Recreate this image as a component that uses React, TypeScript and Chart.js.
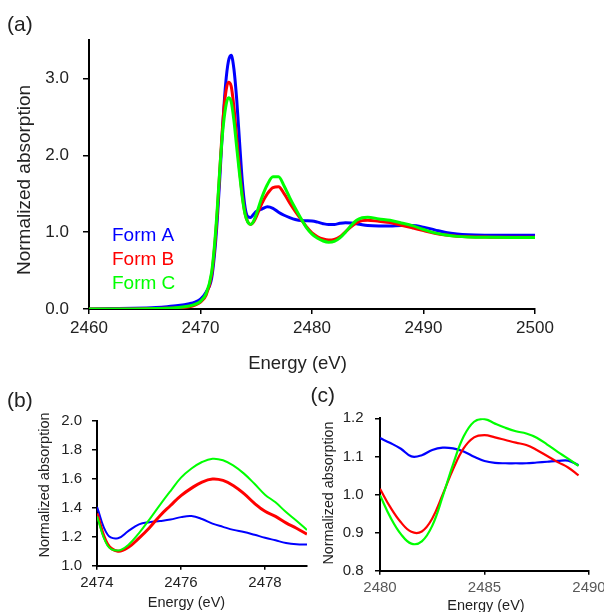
import React, { useEffect, useRef } from 'react';
import { Chart, registerables } from 'chart.js';

Chart.register(...registerables);

const FONT = '"Liberation Sans", Arial, Helvetica, sans-serif';
const BLUE = '#0000ff';
const RED = '#ff0000';
const GREEN = '#00ff00';

// ---------- Panel (a): full spectrum ----------
const mainEnergy = [2460, 2462, 2464, 2466, 2467, 2468, 2469, 2469.5, 2470, 2470.5, 2471, 2471.25, 2471.5, 2471.75, 2472, 2472.25, 2472.5, 2472.75, 2473, 2473.25, 2473.5, 2473.75, 2474, 2474.25, 2474.5, 2474.75, 2475, 2475.5, 2476, 2476.5, 2477, 2477.5, 2478, 2478.5, 2479, 2479.5, 2480, 2480.5, 2481, 2481.5, 2482, 2482.5, 2483, 2483.5, 2484, 2484.5, 2485, 2486, 2487, 2488, 2489, 2490, 2491, 2492, 2493, 2494, 2496, 2498, 2500];
const mainFormA = [0.0, 0.005, 0.01, 0.02, 0.03, 0.045, 0.07, 0.09, 0.13, 0.22, 0.40, 0.70, 1.15, 1.75, 2.40, 2.92, 3.22, 3.30, 3.12, 2.72, 2.18, 1.66, 1.32, 1.20, 1.19, 1.23, 1.27, 1.30, 1.33, 1.31, 1.26, 1.22, 1.19, 1.165, 1.15, 1.148, 1.145, 1.13, 1.11, 1.098, 1.10, 1.115, 1.123, 1.12, 1.11, 1.095, 1.085, 1.08, 1.08, 1.085, 1.085, 1.065, 1.03, 0.995, 0.975, 0.965, 0.96, 0.958, 0.96];
const mainFormB = [0.0, 0.0, 0.0, 0.005, 0.01, 0.015, 0.03, 0.05, 0.09, 0.18, 0.45, 0.78, 1.25, 1.85, 2.42, 2.80, 2.95, 2.90, 2.62, 2.22, 1.82, 1.48, 1.24, 1.13, 1.10, 1.13, 1.20, 1.37, 1.50, 1.58, 1.59, 1.50, 1.38, 1.27, 1.17, 1.07, 0.99, 0.94, 0.91, 0.897, 0.905, 0.94, 1.005, 1.07, 1.12, 1.15, 1.156, 1.14, 1.125, 1.09, 1.055, 1.02, 0.985, 0.962, 0.948, 0.94, 0.935, 0.933, 0.935];
const mainFormC = [0.0, 0.0, 0.0, 0.005, 0.01, 0.02, 0.04, 0.06, 0.10, 0.20, 0.48, 0.82, 1.30, 1.86, 2.32, 2.62, 2.75, 2.70, 2.45, 2.10, 1.76, 1.45, 1.23, 1.13, 1.10, 1.14, 1.23, 1.45, 1.62, 1.72, 1.72, 1.60, 1.45, 1.31, 1.18, 1.06, 0.975, 0.92, 0.885, 0.87, 0.88, 0.925, 1.0, 1.085, 1.155, 1.188, 1.195, 1.172, 1.155, 1.12, 1.085, 1.035, 0.99, 0.962, 0.945, 0.937, 0.932, 0.93, 0.93];

// ---------- Panel (b): 2474-2479 eV ----------
const bEnergy = [2474, 2474.25, 2474.5, 2474.75, 2475, 2475.25, 2475.5, 2475.75, 2476, 2476.25, 2476.5, 2476.75, 2477, 2477.25, 2477.5, 2477.75, 2478, 2478.25, 2478.5, 2478.75, 2479];
const bFormA = [1.405, 1.215, 1.19, 1.24, 1.285, 1.30, 1.308, 1.318, 1.335, 1.342, 1.322, 1.29, 1.268, 1.247, 1.232, 1.213, 1.193, 1.175, 1.157, 1.148, 1.146];
const bFormB = [1.36, 1.15, 1.10, 1.127, 1.19, 1.262, 1.345, 1.415, 1.483, 1.535, 1.577, 1.598, 1.588, 1.552, 1.497, 1.43, 1.375, 1.34, 1.295, 1.258, 1.218];
const bFormC = [1.34, 1.14, 1.105, 1.145, 1.225, 1.32, 1.42, 1.515, 1.607, 1.67, 1.715, 1.738, 1.727, 1.69, 1.635, 1.565, 1.49, 1.437, 1.37, 1.31, 1.246];

// ---------- Panel (c): 2480-2490 eV ----------
const cEnergy = [2480, 2480.5, 2481, 2481.5, 2482, 2482.5, 2483, 2483.5, 2484, 2484.5, 2485, 2485.5, 2486, 2486.5, 2487, 2487.5, 2488, 2488.5, 2489, 2489.5];
const cFormA = [1.148, 1.135, 1.12, 1.10, 1.103, 1.117, 1.123, 1.121, 1.113, 1.099, 1.088, 1.083, 1.082, 1.082, 1.082, 1.084, 1.086, 1.088, 1.089, 1.077];
const cFormB = [1.015, 0.966, 0.927, 0.902, 0.903, 0.937, 1.0, 1.067, 1.121, 1.15, 1.156, 1.15, 1.143, 1.136, 1.13, 1.117, 1.101, 1.085, 1.071, 1.05];
const cFormC = [0.998, 0.94, 0.896, 0.871, 0.877, 0.918, 0.995, 1.08, 1.152, 1.191, 1.198, 1.186, 1.175, 1.166, 1.16, 1.149, 1.131, 1.112, 1.094, 1.075];

const seriesLabels = ['Form A', 'Form B', 'Form C'];
const mainYTicks = [0, 1, 2, 3];

type TextItem = {
  text: string; x: number; y: number; size: number;
  color?: string; rotate?: boolean; align?: CanvasTextAlign;
};

type AxisSpec = {
  min: number; max: number; step: number; fontSize: number; color: string;
  tickLength: number; padding: number; size: number; decimals?: number;
};

type PanelSpec = {
  energy: number[];
  values: number[][];
  widths: number[];
  monotone: boolean;
  padding: { left: number; right: number; top: number; bottom: number };
  x: AxisSpec;
  y: AxisSpec;
  texts: TextItem[];
};

function makeAxis(a: AxisSpec, horizontal: boolean) {
  return {
    type: 'linear',
    min: a.min,
    max: a.max,
    ticks: {
      stepSize: a.step,
      includeBounds: false,
      autoSkip: false,
      maxRotation: 0,
      minRotation: 0,
      padding: a.padding,
      color: a.color,
      font: { family: FONT, size: a.fontSize },
      callback: (v: number) => (a.decimals !== undefined ? Number(v).toFixed(a.decimals) : String(Math.round(Number(v)))),
    },
    grid: {
      drawOnChartArea: false,
      drawTicks: true,
      tickLength: a.tickLength,
      color: '#000',
      lineWidth: 1.5,
    },
    border: { display: true, color: '#000', width: 2 },
    afterFit: (scale: any) => {
      if (horizontal) scale.height = a.size;
      else scale.width = a.size;
      scale.paddingLeft = 0;
      scale.paddingRight = 0;
      scale.paddingTop = 0;
      scale.paddingBottom = 0;
    },
  };
}

function buildConfig(p: PanelSpec): any {
  const colors = [BLUE, RED, GREEN];
  const orders = [2, 1, 0];
  const textPlugin = {
    id: 'panelTexts',
    afterDraw(chart: any) {
      const ctx = chart.ctx as CanvasRenderingContext2D;
      for (const t of p.texts) {
        ctx.save();
        ctx.font = `${t.size}px ${FONT}`;
        ctx.fillStyle = t.color || '#222';
        ctx.textAlign = t.align || 'center';
        ctx.textBaseline = 'alphabetic';
        ctx.translate(t.x, t.y);
        if (t.rotate) ctx.rotate(-Math.PI / 2);
        ctx.fillText(t.text, 0, 0);
        ctx.restore();
      }
    },
  };
  return {
    type: 'line',
    data: {
      datasets: p.values.map((vals, k) => ({
        label: seriesLabels[k],
        data: p.energy.map((e, i) => ({ x: e, y: vals[i] })),
        borderColor: colors[k],
        backgroundColor: colors[k],
        borderWidth: p.widths[k],
        pointRadius: 0,
        cubicInterpolationMode: p.monotone ? 'monotone' : 'default',
        tension: 0.4,
        fill: false,
        order: orders[k],
      })),
    },
    options: {
      animation: false,
      responsive: false,
      maintainAspectRatio: false,
      devicePixelRatio: 1,
      layout: { padding: p.padding, autoPadding: false },
      plugins: { legend: { display: false }, tooltip: { enabled: false }, title: { display: false } },
      scales: {
        x: makeAxis(p.x, true),
        y: makeAxis(p.y, false),
      },
    },
    plugins: [textPlugin],
  };
}

const panelA: PanelSpec = {
  energy: mainEnergy,
  values: [mainFormA, mainFormB, mainFormC],
  widths: [3, 3, 3],
  monotone: true,
  padding: { left: 0, right: 69, top: 40, bottom: 0 },
  x: { min: 2460, max: 2500, step: 10, fontSize: 17, color: '#222', tickLength: 5, padding: 4, size: 71 },
  y: { min: mainYTicks[0], max: 3.5, step: 1, fontSize: 17, color: '#222', tickLength: 6, padding: 14, size: 89, decimals: 1 },
  texts: [
    { text: '(a)', x: 7, y: 31, size: 21, align: 'left' },
    { text: 'Normalized absorption', x: 29.5, y: 180, size: 19, rotate: true },
    { text: 'Energy (eV)', x: 297.5, y: 368.5, size: 18.5 },
    { text: seriesLabels[0], x: 112, y: 241, size: 19, color: BLUE, align: 'left' },
    { text: seriesLabels[1], x: 112, y: 265, size: 19, color: RED, align: 'left' },
    { text: seriesLabels[2], x: 112, y: 288.5, size: 19, color: GREEN, align: 'left' },
  ],
};

const panelB: PanelSpec = {
  energy: bEnergy,
  values: [bFormA, bFormB, bFormC],
  widths: [2, 3, 2],
  monotone: false,
  padding: { left: 0, right: 3, top: 40.7, bottom: 0 },
  x: { min: 2474, max: 2479, step: 2, fontSize: 15, color: '#222', tickLength: 4, padding: 4, size: 46.3 },
  y: { min: 1.0, max: 2.0, step: 0.2, fontSize: 15, color: '#222', tickLength: 5, padding: 10, size: 97, decimals: 1 },
  texts: [
    { text: '(b)', x: 7, y: 27, size: 21, align: 'left' },
    { text: 'Normalized absorption', x: 48.5, y: 105, size: 14.5, rotate: true },
    { text: 'Energy (eV)', x: 186.5, y: 227.3, size: 14.5 },
  ],
};

const panelC: PanelSpec = {
  energy: cEnergy,
  values: [cFormA, cFormB, cFormC],
  widths: [2.2, 2.2, 2.2],
  monotone: false,
  padding: { left: 0, right: 15, top: 38.3, bottom: 0 },
  x: { min: 2480, max: 2490, step: 5, fontSize: 15, color: '#595959', tickLength: 4, padding: 4, size: 41.3 },
  y: { min: 0.8, max: 1.2, step: 0.1, fontSize: 15, color: '#222', tickLength: 5, padding: 11.5, size: 80, decimals: 1 },
  texts: [
    { text: '(c)', x: 10.5, y: 22.3, size: 21, align: 'left' },
    { text: 'Normalized absorption', x: 32.5, y: 113, size: 14.3, rotate: true },
    { text: 'Energy (eV)', x: 186, y: 230, size: 14.5 },
  ],
};

function Panel(props: { spec: PanelSpec; left: number; top: number; width: number; height: number }) {
  const ref = useRef<HTMLCanvasElement>(null);
  useEffect(() => {
    if (!ref.current) return;
    const chart = new Chart(ref.current, buildConfig(props.spec));
    return () => chart.destroy();
  }, []);
  return (
    <canvas
      ref={ref}
      width={props.width}
      height={props.height}
      style={{ position: 'absolute', left: props.left, top: props.top, width: props.width, height: props.height }}
    />
  );
}

export default function App() {
  return (
    <div style={{ position: 'absolute', left: 0, top: 0, width: 604, height: 612, background: '#fff', overflow: 'hidden' }}>
      <Panel spec={panelA} left={0} top={0} width={604} height={380} />
      <Panel spec={panelB} left={0} top={380} width={310} height={232} />
      <Panel spec={panelC} left={300} top={380} width={304} height={232} />
    </div>
  );
}
